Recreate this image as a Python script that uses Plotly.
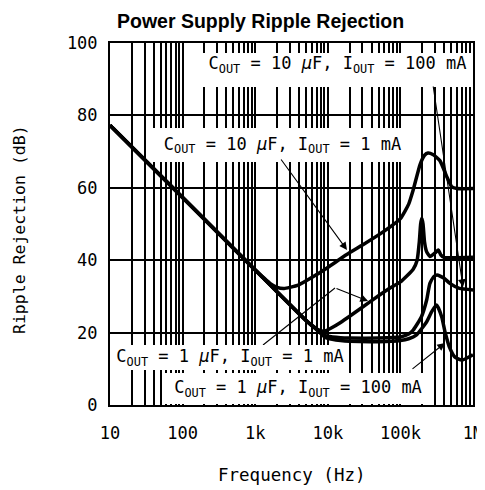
import plotly.graph_objects as go

# ---------------- data ----------------
freq_a = [10, 100, 500, 1000, 1300, 1600, 2000, 2500, 3000, 4000, 6000, 10000,
          18000, 30000, 52000, 100000, 130000, 150000, 187000, 215000, 240000, 280000,
          350000, 437000, 510000, 600000, 1000000]
rr_a = [77.3, 57.3, 43.3, 37.3, 35.2, 33.6, 32.5, 32.2, 32.5, 33.2, 35.2, 38.0,
        41.5, 44.2, 47.2, 51.5, 55.5, 59.4, 66.5, 69.0, 69.6, 69.2, 67.5, 63.0, 60.3,
        59.8, 59.8]

freq_b = [10, 100, 1000, 5000, 6000, 7800, 9000, 11000, 15000, 20000, 38000, 72000,
          100000, 150000, 170000, 182000, 190000, 197000, 205000, 215000, 228000,
          255000, 300000, 333000, 360000, 400000, 1000000]
rr_b = [77.3, 57.3, 37.3, 23.4, 22.0, 20.6, 20.4, 21.2, 22.8, 24.5, 28.5, 32.3,
        34.0, 37.5, 40.0, 45.0, 50.0, 51.6, 50.0, 45.0, 42.5, 41.0, 42.0, 42.8,
        41.5, 40.8, 40.8]

freq_c = [10, 100, 1000, 5000, 7000, 8800, 10000, 15000, 20000, 50000, 100000, 130000,
          150000, 195000, 230000, 255000, 290000, 320000, 400000, 480000, 650000, 1000000]
rr_c = [77.3, 57.3, 37.3, 23.4, 21.0, 19.4, 19.0, 18.6, 18.5, 18.5, 18.8, 19.6,
        20.7, 24.4, 29.0, 33.6, 35.5, 35.9, 35.0, 33.6, 32.2, 31.8]

freq_d = [10, 100, 1000, 5000, 7000, 8800, 10000, 15000, 20000, 50000, 100000, 130000,
          165000, 230000, 270000, 316000, 370000, 415000, 480000, 560000, 700000, 1000000]
rr_d = [77.3, 57.3, 37.3, 23.3, 20.8, 19.0, 18.4, 17.8, 17.6, 17.5, 17.8, 18.3,
        19.3, 23.0, 25.8, 27.6, 24.4, 19.9, 15.7, 13.3, 12.4, 13.9]

x_tickvals = [10, 100, 1000, 10000, 100000, 1000000]
x_ticktext = ["10", "100", "1k", "10k", "100k", "1M"]
y_tickvals = [0, 20, 40, 60, 80, 100]
minor_vals = [k * 10 ** d for d in range(1, 6) for k in range(2, 10)]

labels = [
    "C<sub>OUT</sub> = 10 <i>μ</i>F, I<sub>OUT</sub> = 100 mA",
    "C<sub>OUT</sub> = 10 <i>μ</i>F, I<sub>OUT</sub> = 1 mA",
    "C<sub>OUT</sub> = 1 <i>μ</i>F, I<sub>OUT</sub> = 1 mA",
    "C<sub>OUT</sub> = 1 <i>μ</i>F, I<sub>OUT</sub> = 100 mA",
]

# ---------------- layout helpers ----------------
# page body has an 8px margin; compensate so the plot lands where the reference has it
OFF = 8
W, H = 485, 490
L, R, T, B = 110, 473, 43, 405          # plot area in window pixels
def px(xp):
    return (xp - L) / (R - L)
def py(yp):
    return (B - yp) / (B - T)

MONO = "DejaVu Sans Mono"

fig = go.Figure()
for fx, fy in [(freq_a, rr_a), (freq_b, rr_b), (freq_c, rr_c), (freq_d, rr_d)]:
    fig.add_trace(go.Scatter(x=fx, y=fy, mode="lines",
                             line=dict(color="black", width=3.5, shape="spline", smoothing=0.5),
                             showlegend=False, hoverinfo="skip"))

# label texts in white boxes (boxes hide the grid)
boxes = [(203, 472, 53, 87), (150, 415, 128, 162), (113, 347, 345, 370), (163, 433, 373, 404)]
valigns = ["top", "middle", "middle", "middle"]
for txt, (x0, x1, y0, y1), va in zip(labels, boxes, valigns):
    fig.add_annotation(text=txt, xref="paper", yref="paper",
                       x=px((x0 + x1) / 2), y=py((y0 + y1) / 2),
                       xanchor="center", yanchor="middle", showarrow=False,
                       width=x1 - x0, height=y1 - y0, align="center", valign=va,
                       bgcolor="white", borderpad=0, borderwidth=0,
                       font=dict(family=MONO, size=17, color="black"))

# arrows: (tip_x, tip_y, tail_x, tail_y)
arrows = [(463, 287, 433, 85), (347, 250, 280, 158), (368, 301, 335, 288), (445, 343, 411, 370)]
for tx, ty, sx, sy in arrows:
    fig.add_annotation(text="", xref="paper", yref="paper", x=px(tx), y=py(ty),
                       ax=sx - tx, ay=sy - ty, showarrow=True, arrowhead=2,
                       arrowsize=1.4, arrowwidth=1.1, arrowcolor="black",
                       standoff=0, startstandoff=0)
# bent leader line of the third label
fig.add_shape(type="line", xref="paper", yref="paper",
              x0=px(263), y0=py(345), x1=px(335), y1=py(288),
              line=dict(color="black", width=1.1), layer="above")

# title and axis titles
fig.add_annotation(text="<b>Power Supply Ripple Rejection</b>", xref="paper", yref="paper",
                   x=px(260), y=py(21), xanchor="center", yanchor="middle", showarrow=False,
                   font=dict(family="Liberation Sans", size=19.5, color="black"))
fig.add_annotation(text="Ripple Rejection (dB)", xref="paper", yref="paper",
                   x=px(19), y=py(230), textangle=-90, xanchor="center", yanchor="middle",
                   showarrow=False, font=dict(family=MONO, size=16.5, color="black"))
fig.add_annotation(text="Frequency (Hz)", xref="paper", yref="paper",
                   x=0.5, y=py(475), xanchor="center", yanchor="middle",
                   showarrow=False, font=dict(family=MONO, size=17.5, color="black"))

fig.update_layout(
    width=W - OFF, height=H - OFF,
    margin=dict(l=L - OFF, r=W - R, t=T - OFF, b=H - B, autoexpand=False),
    paper_bgcolor="white", plot_bgcolor="white",
    showlegend=False,
    xaxis=dict(type="log", range=[1, 6], tickvals=x_tickvals, ticktext=x_ticktext,
               showgrid=True, gridcolor="black", gridwidth=1.5,
               minor=dict(tickvals=minor_vals, showgrid=True, gridcolor="black",
                          gridwidth=1.5, ticks=""),
               showline=True, mirror=True, linecolor="black", linewidth=2,
               ticks="", ticklabelstandoff=12, zeroline=False,
               tickfont=dict(family=MONO, size=17, color="black")),
    yaxis=dict(range=[0, 100], tickvals=y_tickvals,
               showgrid=True, gridcolor="black", gridwidth=1.5,
               showline=True, mirror=True, linecolor="black", linewidth=2,
               ticks="", ticklabelstandoff=7, zeroline=False,
               tickfont=dict(family=MONO, size=17, color="black")),
)

fig.write_html("out.html")
